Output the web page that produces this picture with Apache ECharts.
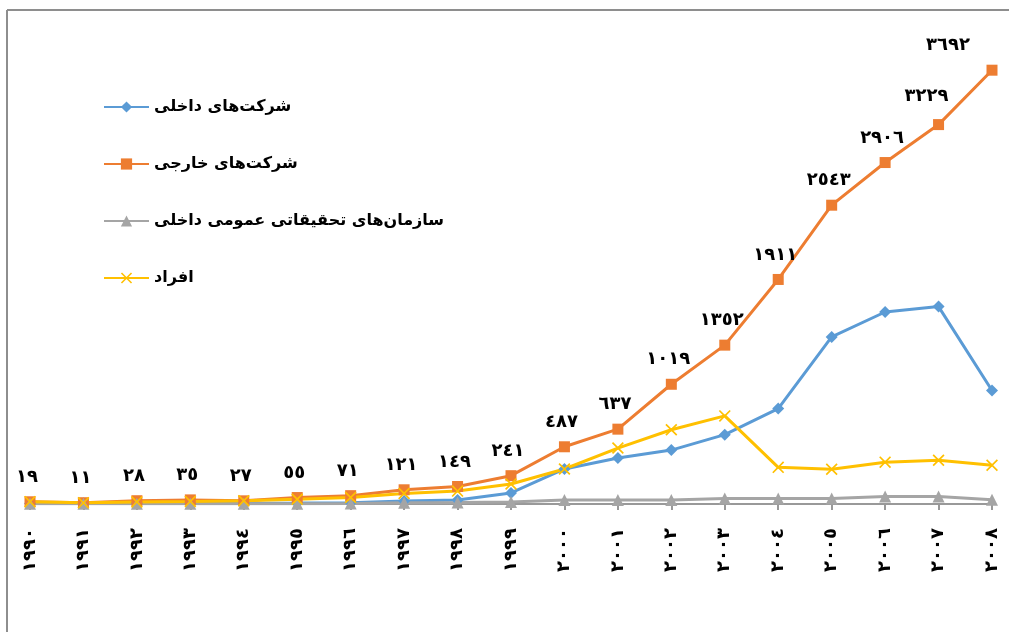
<!DOCTYPE html>
<html>
<head>
<meta charset="utf-8">
<script src="https://cdn.jsdelivr.net/npm/echarts@6/dist/echarts.min.js"></script>
<style>
  html, body { margin: 0; padding: 0; background: #fff; }
  #chart { width: 1009px; height: 632px; }
</style>
</head>
<body>
<div id="chart"></div>
<script>
const years = ['1990', '1991', '1992', '1993', '1994', '1995', '1996', '1997', '1998', '1999',
  '2000', '2001', '2002', '2003', '2004', '2005', '2006', '2007', '2008']
const seriesNames = ['شرکت‌های داخلی', 'شرکت‌های خارجی', 'سازمان‌های تحقیقاتی عمومی داخلی', 'افراد']
const domestic = [5, 4, 6, 6, 7, 8, 10, 25, 34, 94, 298, 391, 459, 590, 812, 1422, 1634, 1680, 966]
const foreign = [19, 11, 28, 35, 27, 55, 71, 121, 149, 241, 487, 637, 1019, 1352, 1911, 2543, 2906, 3229, 3692]
const research = [3, 3, 3, 3, 3, 3, 4, 10, 12, 18, 34, 34, 34, 47, 47, 47, 64, 64, 36]
const individuals = [20, 10, 18, 22, 28, 40, 55, 90, 110, 170, 298, 476, 632, 750, 312, 296, 356, 372, 330]

// western digits -> arabic-indic
const toArabic = (s) => String(s).replace(/[0-9]/g, (d) => String.fromCharCode(0x0660 + Number(d)))

const FONT = '"DejaVu Sans", sans-serif'
const crossPath = 'path://M0,1L1,0L5,4L9,0L10,1L6,5L10,9L9,10L5,6L1,10L0,9L4,5Z'

const last = foreign.length - 1
const foreignData = foreign.map((v, i) => {
  if (i === last) return { value: v, label: { offset: [-44, 0] } }
  if (i === last - 1) return { value: v, label: { offset: [-12, -4] } }
  return v
})

const chart = echarts.init(document.getElementById('chart'))
chart.setOption({
  animation: false,
  color: ['#5B9BD5', '#ED7D31', '#A5A5A5', '#FFC000'],
  grid: { left: 30, right: 17, top: 34, bottom: 128 },
  legend: {
    orient: 'vertical',
    left: 98,
    top: 92,
    itemWidth: 45,
    itemHeight: 14,
    itemGap: 37,
    data: seriesNames,
    textStyle: { fontFamily: FONT, fontWeight: 'bold', fontSize: 16, color: '#000', lineHeight: 20 }
  },
  xAxis: {
    type: 'category',
    data: years,
    boundaryGap: false,
    axisLine: { lineStyle: { color: '#999', width: 2 } },
    axisTick: { show: true, length: 6, lineStyle: { color: '#999', width: 2 } },
    axisLabel: {
      rotate: 90,
      margin: 24,
      interval: 0,
      fontFamily: FONT,
      fontWeight: 'bold',
      fontSize: 18,
      color: '#000',
      formatter: (v) => toArabic(v)
    }
  },
  yAxis: { type: 'value', min: 0, max: 4000, show: false },
  series: [
    {
      name: seriesNames[0], type: 'line', data: domestic,
      symbol: 'diamond', symbolSize: 12,
      lineStyle: { width: 3 }
    },
    {
      name: seriesNames[1], type: 'line', data: foreignData,
      symbol: 'rect', symbolSize: 11,
      lineStyle: { width: 3 },
      label: {
        show: true, position: 'top', distance: 10, offset: [-3, 0],
        fontFamily: FONT, fontWeight: 'bold', fontSize: 18, color: '#000',
        formatter: (p) => toArabic(p.value)
      }
    },
    {
      name: seriesNames[2], type: 'line', data: research,
      symbol: 'triangle', symbolSize: 12,
      lineStyle: { width: 3 }
    },
    {
      name: seriesNames[3], type: 'line', data: individuals,
      symbol: crossPath, symbolSize: 12,
      lineStyle: { width: 3 }
    }
  ],
  graphic: [
    { type: 'line', shape: { x1: 7, y1: 10, x2: 7, y2: 632 }, style: { stroke: '#8E8E8E', lineWidth: 2 } },
    { type: 'line', shape: { x1: 7, y1: 10, x2: 1009, y2: 10 }, style: { stroke: '#8E8E8E', lineWidth: 2 } }
  ]
})
</script>
</body>
</html>
